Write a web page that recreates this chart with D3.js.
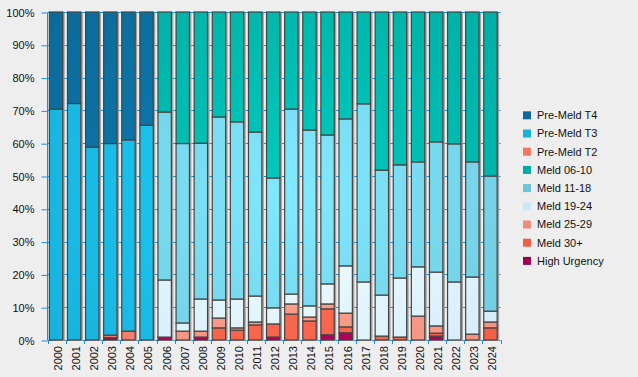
<!DOCTYPE html>
<html>
<head>
  <style>
    html, body { margin: 0; padding: 0; background: #eeeeee; }
    svg { display: block; font-family: "Liberation Sans", Arial, sans-serif; }
  </style>
</head>
<body>
  <svg id="svg" width="638" height="377"></svg>

  <script src="https://d3js.org/d3.v7.min.js"></script>
  <script>
    // values, percent of each year's total
    const years = d3.range(2000, 2025).map(String)

    const highUrgency = [0, 0, 0, 0.7, 0, 0, 0.9, 0, 0.9, 0, 0, 0, 0.9, 0, 0, 1.6, 2.2, 0, 0, 0, 0, 1.2, 0, 0, 0]
    const meld30 = [0, 0, 0, 0, 0, 0, 0, 0, 0, 3.7, 3.0, 4.6, 4.0, 7.9, 5.8, 7.9, 1.8, 0, 1.2, 0.9, 0, 0.9, 0, 0, 3.7]
    const meld25 = [0, 0, 0, 0, 0, 0, 0, 2.7, 1.8, 3.0, 0.7, 0.9, 0, 3.1, 1.2, 1.5, 4.2, 0, 0, 0, 7.3, 2.2, 0, 1.8, 1.8]
    const meld19 = [0, 0, 0, 0, 0, 0, 17.4, 2.5, 9.8, 5.5, 8.8, 7.9, 4.9, 3.0, 3.4, 6.1, 14.4, 17.7, 12.5, 18.0, 15.0, 16.4, 17.7, 17.4, 3.3]
    const meld11 = [0, 0, 0, 0, 0, 0, 51.2, 54.7, 47.5, 55.8, 54.0, 50.0, 39.6, 56.4, 53.6, 45.4, 44.8, 54.3, 38.1, 34.5, 32.0, 39.7, 42.1, 35.1, 41.2]
    const meld06 = [0, 0, 0, 0, 0, 0, 30.5, 40.1, 40.0, 32.0, 33.5, 36.6, 50.6, 29.6, 36.0, 37.5, 32.6, 28.0, 48.2, 46.6, 45.7, 39.6, 40.2, 45.7, 50.0]
    const preT2 = [0, 0, 0, 0.8, 2.7, 0, 0, 0, 0, 0, 0, 0, 0, 0, 0, 0, 0, 0, 0, 0, 0, 0, 0, 0, 0]
    const preT3 = [70.4, 72.1, 58.8, 58.4, 58.3, 65.5, 0, 0, 0, 0, 0, 0, 0, 0, 0, 0, 0, 0, 0, 0, 0, 0, 0, 0, 0]
    const preT4 = [29.6, 27.9, 41.2, 40.1, 39.0, 34.5, 0, 0, 0, 0, 0, 0, 0, 0, 0, 0, 0, 0, 0, 0, 0, 0, 0, 0, 0]

    // bottom of the stack first
    const seriesNames = ["High Urgency", "Meld 30+", "Meld 25-29", "Meld 19-24", "Meld 11-18", "Meld 06-10", "Pre-Meld T2", "Pre-Meld T3", "Pre-Meld T4"]
    const seriesValues = [highUrgency, meld30, meld25, meld19, meld11, meld06, preT2, preT3, preT4]
    const seriesColors = ["#a00050", "#f05c44", "#f08c7c", "#cce8f8", "#6cc4d8", "#00aaa0", "#f07864", "#17b0d9", "#0b6a99"]

    const yTicks = d3.range(0, 101, 10)

    const table = years.map((year, i) => {
      const row = { year }
      seriesNames.forEach((name, j) => { row[name] = seriesValues[j][i] })
      return row
    })

    const svg = d3.select("#svg")
    const plotLeft = 48, plotRight = 500.5, plotTop = 12, plotBottom = 340
    const axisColor = "#1a8fe0"

    const xScale = d3.scaleBand().domain(years).range([plotLeft, plotRight]).padding(0)
    const yScale = d3.scaleLinear().domain([0, 100]).range([plotBottom, plotTop])
    const barOffset = xScale.bandwidth() * 0.075
    const barWidth = xScale.bandwidth() * 0.74

    // gradients: lighter towards the middle of the plot
    const defs = svg.append("defs")
    seriesColors.forEach((c, i) => {
      const g = defs.append("radialGradient")
        .attr("id", "grad" + i)
        .attr("gradientUnits", "userSpaceOnUse")
        .attr("cx", 300).attr("cy", 190).attr("r", 310)
      g.append("stop").attr("offset", "0").attr("stop-color", d3.rgb(c).brighter(0.5))
      g.append("stop").attr("offset", "1").attr("stop-color", c)
    })

    // grid lines, seen only between bars
    svg.append("g")
      .selectAll("line")
      .data(yTicks.slice(1))
      .join("line")
      .attr("x1", plotLeft).attr("x2", plotRight)
      .attr("y1", d => Math.round(yScale(d)) + 0.5)
      .attr("y2", d => Math.round(yScale(d)) + 0.5)
      .attr("stroke", axisColor)

    // axes
    const leftAxis = d3.axisLeft(yScale).tickValues(yTicks).tickFormat(d => d + "%").tickSize(6).tickPadding(7)
    const yAxisG = svg.append("g")
      .attr("transform", `translate(${plotLeft - 0.5}, 0.5)`)
      .call(leftAxis)
    yAxisG.select(".domain").attr("stroke", axisColor).attr("d", `M0,${plotTop}V${plotBottom}`)
    yAxisG.selectAll(".tick line").attr("stroke", axisColor)
    yAxisG.selectAll("text").attr("fill", "#111").style("font-size", "11px")

    const xAxisG = svg.append("g")
    xAxisG.append("line")
      .attr("x1", plotLeft).attr("x2", plotRight)
      .attr("y1", plotBottom + 0.5).attr("y2", plotBottom + 0.5)
      .attr("stroke", axisColor)
    xAxisG.selectAll("line.tick")
      .data(years.concat([null]))
      .join("line")
      .attr("class", "tick")
      .attr("x1", d => Math.round(d === null ? plotRight : xScale(d)) + 0.5)
      .attr("x2", d => Math.round(d === null ? plotRight : xScale(d)) + 0.5)
      .attr("y1", plotBottom).attr("y2", plotBottom + 4)
      .attr("stroke", axisColor)
    xAxisG.selectAll("text")
      .data(years)
      .join("text")
      .attr("transform", d => `translate(${xScale(d) + xScale.bandwidth() / 2 + 1}, ${plotBottom + 6}) rotate(-90)`)
      .attr("text-anchor", "end")
      .attr("dy", "0.35em")
      .attr("fill", "#111")
      .style("font-size", "11px")
      .text(d => d)

    // bar shadows
    svg.append("g")
      .selectAll("rect")
      .data(years)
      .join("rect")
      .attr("x", d => xScale(d) + barOffset + 2)
      .attr("y", yScale(100) + 1)
      .attr("width", barWidth)
      .attr("height", yScale(0) - yScale(100))
      .attr("fill", "#a2a2a2")

    // stacked bars
    const stack = d3.stack().keys(seriesNames)(table)
    svg.append("g")
      .selectAll("g")
      .data(stack)
      .join("g")
      .attr("fill", (d, i) => `url(#grad${i})`)
      .selectAll("rect")
      .data(d => d.filter(s => s[1] - s[0] > 0))
      .join("rect")
      .attr("x", d => xScale(d.data.year) + barOffset)
      .attr("y", d => yScale(d[1]))
      .attr("width", barWidth)
      .attr("height", d => yScale(d[0]) - yScale(d[1]))
      .attr("stroke", "#444")
      .attr("stroke-width", 1.2)

    // legend, top entry is the top of the stack
    const legendNames = seriesNames.slice().reverse()
    const legend = svg.append("g")
      .selectAll("g")
      .data(legendNames)
      .join("g")
      .attr("transform", (d, i) => `translate(523, ${115.3 + i * 18.2})`)
    legend.append("rect")
      .attr("x", 0).attr("y", -4)
      .attr("width", 8).attr("height", 8)
      .attr("fill", d => seriesColors[seriesNames.indexOf(d)])
    legend.append("text")
      .attr("x", 14)
      .attr("dy", "0.35em")
      .attr("fill", "#111")
      .style("font-size", "11px")
      .text(d => d)
  </script>
</body>
</html>
